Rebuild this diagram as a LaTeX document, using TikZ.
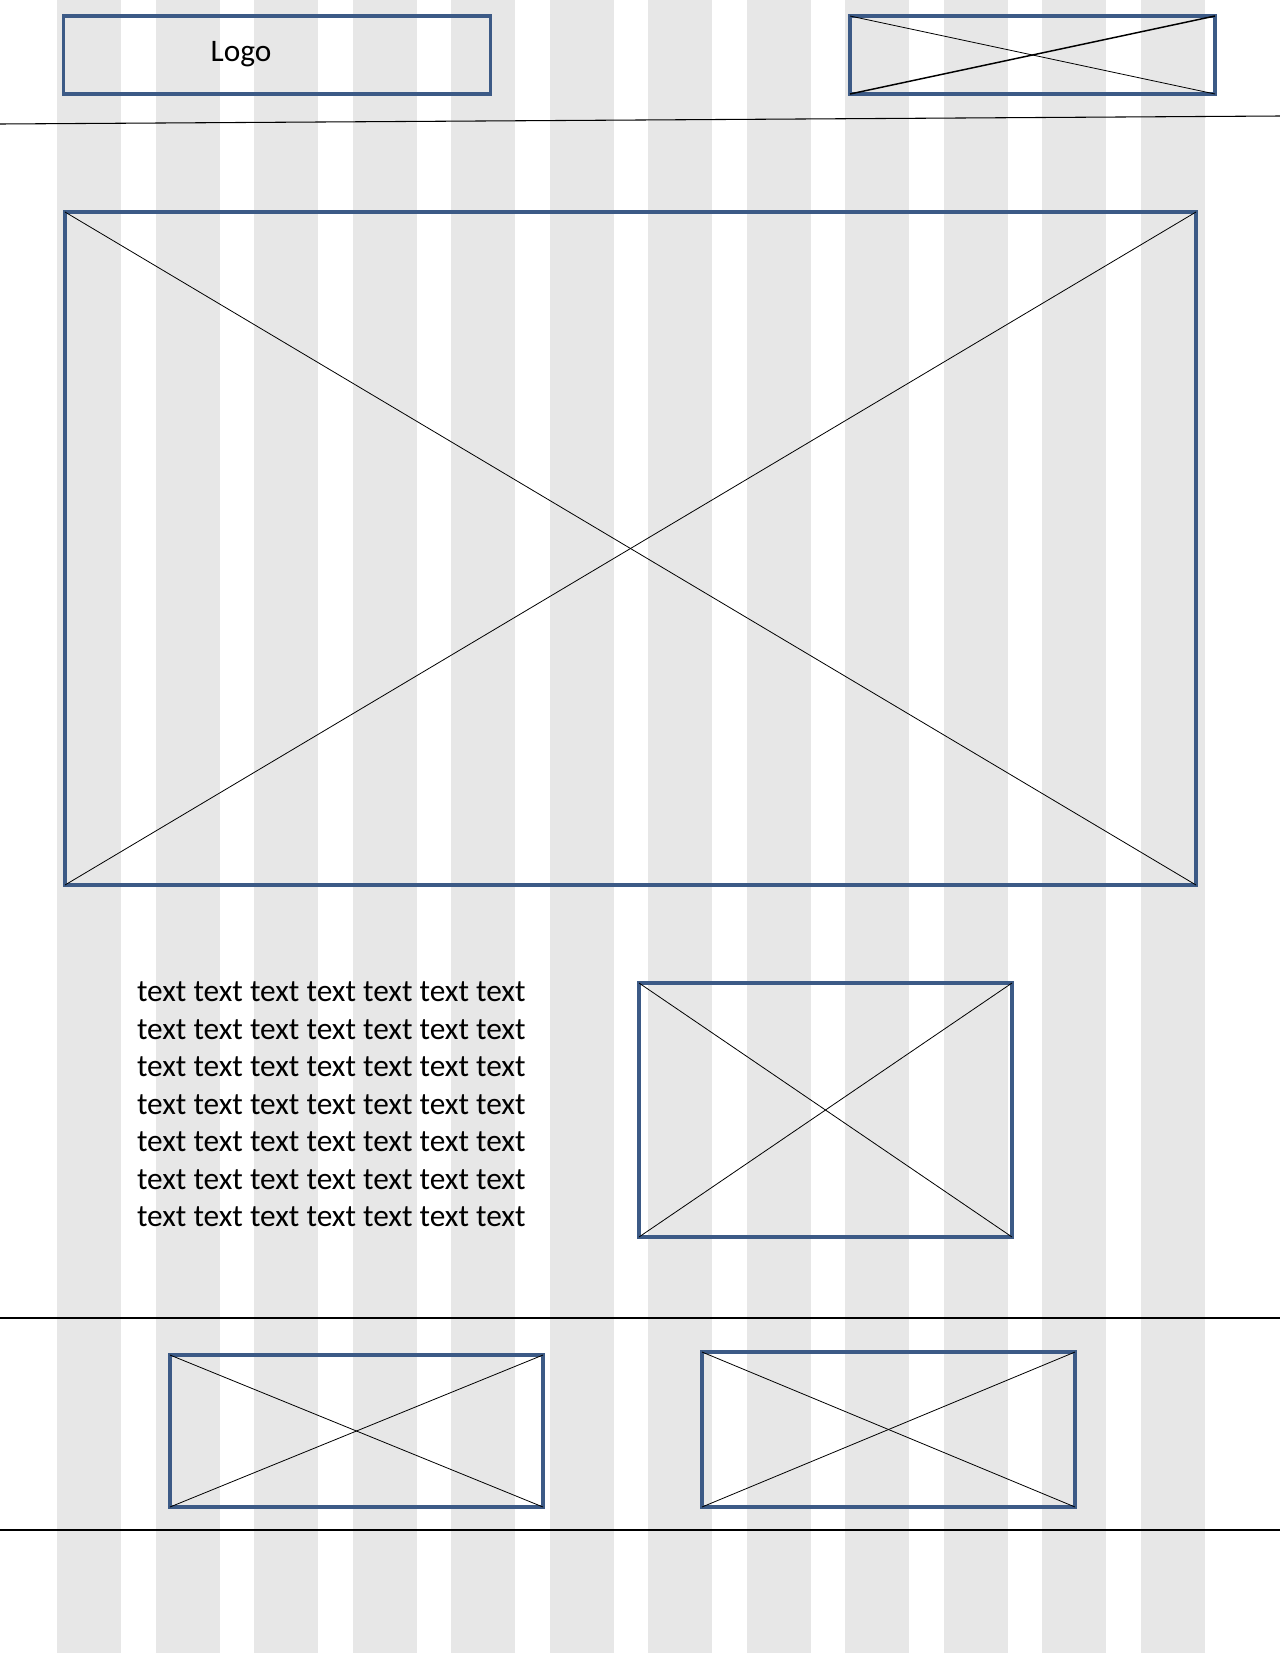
\documentclass[tikz,border=0pt]{standalone}
\usepackage{fontspec}
\setmainfont{Carlito}
\definecolor{stripe}{HTML}{E7E7E7}
\definecolor{boxblue}{RGB}{60,90,134}
\begin{document}
\begin{tikzpicture}[x=0.75pt,y=-0.75pt,
  box/.style={draw=boxblue, line width=2.4pt, inner sep=0pt, outer sep=0pt, fill=none},
  diag/.style={draw=black, line width=0.6pt},
  rule/.style={draw=black, line width=0.8pt},
  txt/.style={font=\fontsize{23.5}{28}\selectfont, inner sep=0pt, outer sep=0pt}]
\useasboundingbox[fill=white] (0,0) rectangle (1280,1653);
% grid stripes
\foreach \k in {0,...,11}
  \fill[stripe] ({57+98.5*\k},0) rectangle ++(64,1653);
% header
\node[box, minimum width={427*0.75pt}, minimum height={78*0.75pt}] (logo) at (277,55) {};
\node[txt, anchor=base] (logotext) at (241,61.7) {Logo};
\node[box, minimum width={365*0.75pt}, minimum height={78*0.75pt}] (hdr) at (1032.5,55) {};
\draw[diag] (hdr.north west) -- (hdr.south east);
\draw[diag, line width=1.1pt] (hdr.south west) -- (hdr.north east);
\coordinate (hl1) at (0,124);
\coordinate (hl2) at (1280,116);
\draw[rule] (hl1) -- (hl2);
% hero image
\node[box, minimum width={1131*0.75pt}, minimum height={673*0.75pt}] (hero) at (630.5,548.5) {};
\draw[diag] (hero.north west) -- (hero.south east);
\draw[diag] (hero.south west) -- (hero.north east);
% text block
\foreach \i in {1,...,7}
  \node[txt, anchor=base west] (t\i) at (137,{1001.7+37.5*(\i-1)}) {text text text text text text text};
% medium image
\node[box, minimum width={373*0.75pt}, minimum height={254*0.75pt}] (mid) at (825.5,1110) {};
\draw[diag] (mid.north west) -- (mid.south east);
\draw[diag] (mid.south west) -- (mid.north east);
% footer rules
\coordinate (f1a) at (0,1318);
\coordinate (f1b) at (1280,1318);
\coordinate (f2a) at (0,1530);
\coordinate (f2b) at (1280,1530);
\draw[rule] (f1a) -- (f1b);
\draw[rule] (f2a) -- (f2b);
% footer images
\node[box, minimum width={373*0.75pt}, minimum height={152*0.75pt}] (fl) at (356.5,1431) {};
\draw[diag] (fl.north west) -- (fl.south east);
\draw[diag] (fl.south west) -- (fl.north east);
\node[box, minimum width={373*0.75pt}, minimum height={155*0.75pt}] (fr) at (888.5,1429.5) {};
\draw[diag] (fr.north west) -- (fr.south east);
\draw[diag] (fr.south west) -- (fr.north east);
\end{tikzpicture}
\end{document}
